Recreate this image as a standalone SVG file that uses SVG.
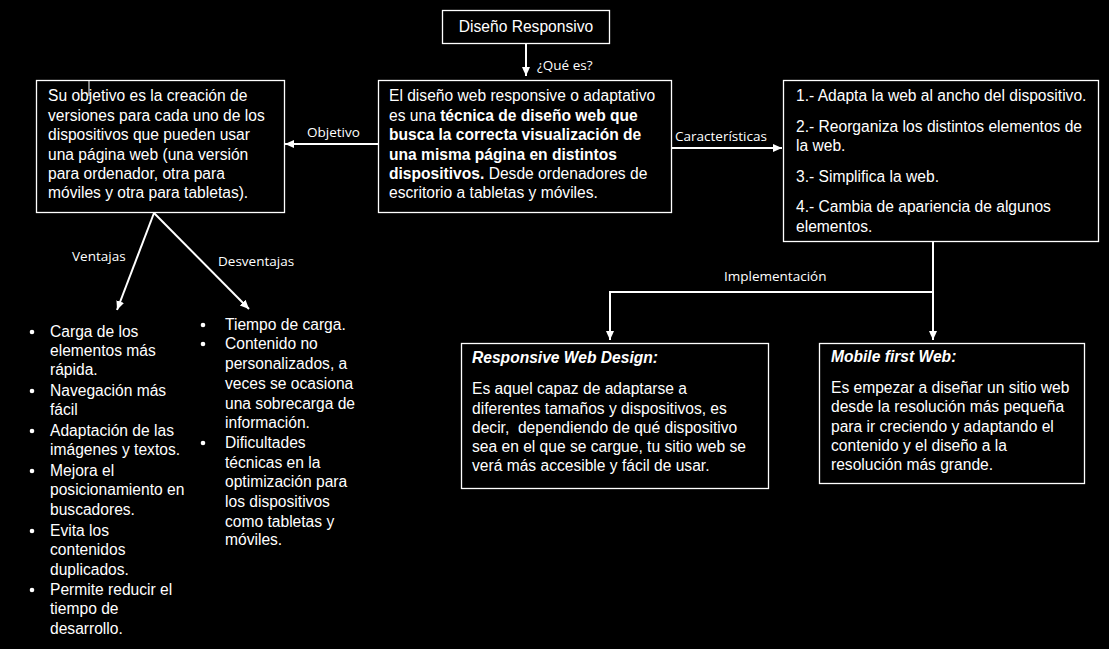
<svg xmlns="http://www.w3.org/2000/svg" width="1109" height="649" viewBox="0 0 1109 649">
<defs>
<marker id="ah" markerWidth="10" markerHeight="10" refX="9" refY="5" orient="auto" markerUnits="userSpaceOnUse">
<path d="M0,1 L9,5 L0,9 Z" fill="#fff"/>
</marker>
<style>
.box{fill:#000;stroke:#fff;stroke-width:1.3}
.t{font-family:"Liberation Sans",Arial,sans-serif;font-size:15.6px;fill:#fff}
.b{font-weight:bold}
.bi{font-weight:bold;font-style:italic}
.lbl{font-family:"Open Sans","Noto Sans",sans-serif;font-size:13.5px;fill:#fff}
.ln{stroke:#fff;stroke-width:2;fill:none}
</style>
</defs>
<rect width="1109" height="649" fill="#000"/>
<g id="connectors">
<line class="ln" x1="526" y1="43" x2="526" y2="76" marker-end="url(#ah)"/>
<text class="lbl" x="537" y="70">¿Qué es?</text>
<line class="ln" x1="378" y1="144" x2="285" y2="144" marker-end="url(#ah)"/>
<text class="lbl" x="307" y="137">Objetivo</text>
<line class="ln" x1="672" y1="148" x2="782" y2="148" marker-end="url(#ah)"/>
<text class="lbl" x="675" y="141">Características</text>
<polyline class="ln" points="933,242 933,292 610,292 610,340" marker-end="url(#ah)"/>
<line class="ln" x1="933" y1="292" x2="933" y2="340" marker-end="url(#ah)"/>
<text class="lbl" x="724" y="281">Implementación</text>
<line class="ln" x1="154" y1="213" x2="117" y2="310" marker-end="url(#ah)"/>
<text class="lbl" x="72" y="261">Ventajas</text>
<line class="ln" x1="154" y1="213" x2="249" y2="309" marker-end="url(#ah)"/>
<text class="lbl" x="218" y="266">Desventajas</text>
</g>
<g id="title">
<rect class="box" x="442.5" y="10.5" width="167" height="33"/>
<text class="t" x="526" y="32" text-anchor="middle">Diseño Responsivo</text>
</g>
<g id="center">
<rect class="box" x="378.5" y="80.5" width="293" height="132"/>
<text class="t" x="389" y="101">El diseño web responsive o adaptativo</text>
<text class="t" x="389" y="120.5">es una <tspan class="b">técnica de diseño web que</tspan></text>
<text class="t b" x="389" y="140">busca la correcta visualización de</text>
<text class="t b" x="389" y="159.5">una misma página en distintos</text>
<text class="t" x="389" y="178.5"><tspan class="b">dispositivos.</tspan> Desde ordenadores de</text>
<text class="t" x="389" y="198">escritorio a tabletas y móviles.</text>
</g>
<g id="objetivo">
<rect class="box" x="36.5" y="80.5" width="248" height="132"/>
<line x1="89" y1="80" x2="89" y2="96" stroke="#fff" stroke-width="1"/>
<text class="t" x="48" y="101">Su objetivo es la creación de</text>
<text class="t" x="48" y="120.5">versiones para cada uno de los</text>
<text class="t" x="48" y="140">dispositivos que pueden usar</text>
<text class="t" x="48" y="159.5">una página web (una versión</text>
<text class="t" x="48" y="178.5">para ordenador, otra para</text>
<text class="t" x="48" y="198">móviles y otra para tabletas).</text>
</g>
<g id="caracteristicas">
<rect class="box" x="783.5" y="80.5" width="315" height="161"/>
<text class="t" x="796" y="101">1.- Adapta la web al ancho del dispositivo.</text>
<text class="t" x="796" y="132">2.- Reorganiza los distintos elementos de</text>
<text class="t" x="796" y="150.5">la web.</text>
<text class="t" x="796" y="181.5">3.- Simplifica la web.</text>
<text class="t" x="796" y="212">4.- Cambia de apariencia de algunos</text>
<text class="t" x="796" y="231.5">elementos.</text>
</g>
<g id="responsive">
<rect class="box" x="461.5" y="343.5" width="307" height="145"/>
<text class="t bi" x="472" y="363">Responsive Web Design:</text>
<text class="t" x="472" y="394">Es aquel capaz de adaptarse a</text>
<text class="t" x="472" y="413.5">diferentes tamaños y dispositivos, es</text>
<text class="t" x="472" y="433" xml:space="preserve">decir,  dependiendo de qué dispositivo</text>
<text class="t" x="472" y="452">sea en el que se cargue, tu sitio web se</text>
<text class="t" x="472" y="471">verá más accesible y fácil de usar.</text>
</g>
<g id="mobile">
<rect class="box" x="819.5" y="343.5" width="265" height="140"/>
<text class="t bi" x="831" y="362">Mobile first Web:</text>
<text class="t" x="831" y="393">Es empezar a diseñar un sitio web</text>
<text class="t" x="831" y="412">desde la resolución más pequeña</text>
<text class="t" x="831" y="431.5">para ir creciendo y adaptando el</text>
<text class="t" x="831" y="451">contenido y el diseño a la</text>
<text class="t" x="831" y="470">resolución más grande.</text>
</g>
<g id="ventajas">
<g fill="#fff"><circle cx="32" cy="332" r="2.3"/><circle cx="32" cy="391" r="2.3"/><circle cx="32" cy="431" r="2.3"/><circle cx="32" cy="471" r="2.3"/><circle cx="32" cy="531" r="2.3"/><circle cx="32" cy="590" r="2.3"/></g>
<text class="t" x="50" y="337">Carga de los</text>
<text class="t" x="50" y="356">elementos más</text>
<text class="t" x="50" y="375">rápida.</text>
<text class="t" x="50" y="396">Navegación más</text>
<text class="t" x="50" y="415">fácil</text>
<text class="t" x="50" y="436">Adaptación de las</text>
<text class="t" x="50" y="455">imágenes y textos.</text>
<text class="t" x="50" y="476">Mejora el</text>
<text class="t" x="50" y="495">posicionamiento en</text>
<text class="t" x="50" y="515">buscadores.</text>
<text class="t" x="50" y="536">Evita los</text>
<text class="t" x="50" y="555">contenidos</text>
<text class="t" x="50" y="575">duplicados.</text>
<text class="t" x="50" y="595">Permite reducir el</text>
<text class="t" x="50" y="614">tiempo de</text>
<text class="t" x="50" y="634">desarrollo.</text>
</g>
<g id="desventajas">
<g fill="#fff"><circle cx="203" cy="325" r="2.3"/><circle cx="203" cy="344" r="2.3"/><circle cx="203" cy="443" r="2.3"/></g>
<text class="t" x="225" y="330">Tiempo de carga.</text>
<text class="t" x="225" y="349">Contenido no</text>
<text class="t" x="225" y="369">personalizados, a</text>
<text class="t" x="225" y="389">veces se ocasiona</text>
<text class="t" x="225" y="409">una sobrecarga de</text>
<text class="t" x="225" y="428">información.</text>
<text class="t" x="225" y="448">Dificultades</text>
<text class="t" x="225" y="468">técnicas en la</text>
<text class="t" x="225" y="487">optimización para</text>
<text class="t" x="225" y="507">los dispositivos</text>
<text class="t" x="225" y="527">como tabletas y</text>
<text class="t" x="225" y="545">móviles.</text>
</g>
</svg>
